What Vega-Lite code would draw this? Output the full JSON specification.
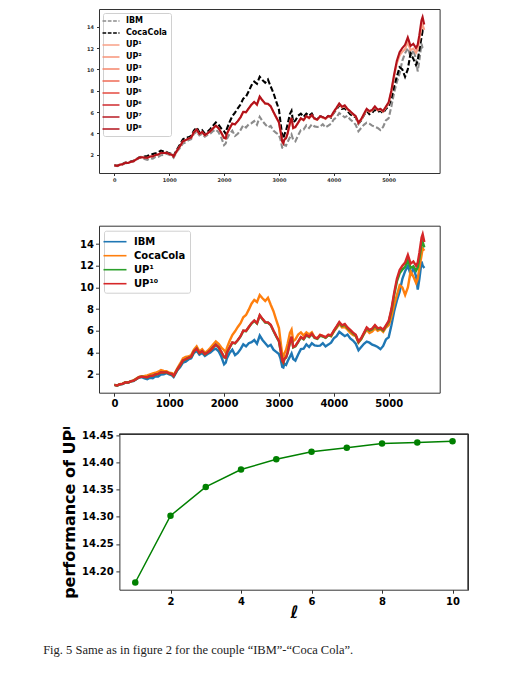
{
  "$schema": "https://vega.github.io/schema/vega-lite/v6.json",
  "padding": {"left": 43, "top": 8, "right": 5, "bottom": 5},
  "config": {
    "font": "DejaVu Sans",
    "view": {"stroke": "#333333", "strokeWidth": 1},
    "axis": {"grid": false, "domain": false, "labelFontWeight": "bold", "labelColor": "#000000", "tickColor": "#333333", "titleColor": "#000000", "labelFontSize": 10, "tickSize": 3.5, "labelPadding": 2, "labelOverlap": false},
    "legend": {"labelFontWeight": "bold", "labelColor": "#000000", "labelLimit": 300}
  },
  "datasets": {
    "series": [
      {"t": 0, "ibm": 1.00, "coca": 1.00, "up1": 1.00, "up10": 1.00},
      {"t": 50, "ibm": 0.93, "coca": 0.95, "up1": 0.94, "up10": 0.94},
      {"t": 100, "ibm": 1.05, "coca": 1.08, "up1": 1.06, "up10": 1.06},
      {"t": 150, "ibm": 1.08, "coca": 1.12, "up1": 1.10, "up10": 1.10},
      {"t": 200, "ibm": 1.22, "coca": 1.25, "up1": 1.23, "up10": 1.23},
      {"t": 250, "ibm": 1.20, "coca": 1.24, "up1": 1.22, "up10": 1.22},
      {"t": 300, "ibm": 1.32, "coca": 1.35, "up1": 1.33, "up10": 1.33},
      {"t": 350, "ibm": 1.36, "coca": 1.42, "up1": 1.39, "up10": 1.39},
      {"t": 400, "ibm": 1.52, "coca": 1.58, "up1": 1.55, "up10": 1.55},
      {"t": 450, "ibm": 1.68, "coca": 1.74, "up1": 1.71, "up10": 1.71},
      {"t": 500, "ibm": 1.72, "coca": 1.80, "up1": 1.76, "up10": 1.76},
      {"t": 550, "ibm": 1.60, "coca": 1.82, "up1": 1.72, "up10": 1.72},
      {"t": 600, "ibm": 1.52, "coca": 1.88, "up1": 1.70, "up10": 1.70},
      {"t": 650, "ibm": 1.66, "coca": 1.98, "up1": 1.82, "up10": 1.83},
      {"t": 700, "ibm": 1.62, "coca": 2.05, "up1": 1.83, "up10": 1.84},
      {"t": 750, "ibm": 1.80, "coca": 2.12, "up1": 1.96, "up10": 1.97},
      {"t": 800, "ibm": 1.78, "coca": 2.22, "up1": 2.00, "up10": 2.01},
      {"t": 850, "ibm": 1.95, "coca": 2.38, "up1": 2.16, "up10": 2.17},
      {"t": 900, "ibm": 1.98, "coca": 2.30, "up1": 2.14, "up10": 2.15},
      {"t": 950, "ibm": 2.08, "coca": 2.26, "up1": 2.17, "up10": 2.18},
      {"t": 1000, "ibm": 1.98, "coca": 2.12, "up1": 2.05, "up10": 2.06},
      {"t": 1050, "ibm": 1.88, "coca": 2.08, "up1": 1.98, "up10": 1.99},
      {"t": 1080, "ibm": 1.72, "coca": 1.92, "up1": 1.82, "up10": 1.83},
      {"t": 1100, "ibm": 1.90, "coca": 2.08, "up1": 1.99, "up10": 2.00},
      {"t": 1150, "ibm": 2.35, "coca": 2.55, "up1": 2.44, "up10": 2.45},
      {"t": 1200, "ibm": 2.65, "coca": 2.98, "up1": 2.81, "up10": 2.82},
      {"t": 1250, "ibm": 3.05, "coca": 3.45, "up1": 3.24, "up10": 3.25},
      {"t": 1300, "ibm": 3.15, "coca": 3.58, "up1": 3.36, "up10": 3.37},
      {"t": 1350, "ibm": 3.35, "coca": 3.62, "up1": 3.49, "up10": 3.50},
      {"t": 1400, "ibm": 3.45, "coca": 3.75, "up1": 3.59, "up10": 3.60},
      {"t": 1450, "ibm": 3.95, "coca": 4.25, "up1": 4.09, "up10": 4.10},
      {"t": 1500, "ibm": 4.15, "coca": 4.55, "up1": 4.34, "up10": 4.35},
      {"t": 1550, "ibm": 3.80, "coca": 4.10, "up1": 3.94, "up10": 3.95},
      {"t": 1600, "ibm": 3.95, "coca": 4.30, "up1": 4.11, "up10": 4.12},
      {"t": 1650, "ibm": 3.68, "coca": 3.98, "up1": 3.82, "up10": 3.83},
      {"t": 1700, "ibm": 3.85, "coca": 4.15, "up1": 3.99, "up10": 4.00},
      {"t": 1750, "ibm": 3.98, "coca": 4.42, "up1": 4.19, "up10": 4.20},
      {"t": 1800, "ibm": 4.22, "coca": 4.72, "up1": 4.46, "up10": 4.47},
      {"t": 1850, "ibm": 4.35, "coca": 5.02, "up1": 4.71, "up10": 4.72},
      {"t": 1900, "ibm": 4.10, "coca": 4.80, "up1": 4.47, "up10": 4.48},
      {"t": 1950, "ibm": 3.60, "coca": 4.45, "up1": 4.03, "up10": 4.05},
      {"t": 2000, "ibm": 2.90, "coca": 4.20, "up1": 3.56, "up10": 3.58},
      {"t": 2030, "ibm": 3.05, "coca": 3.95, "up1": 3.50, "up10": 3.52},
      {"t": 2050, "ibm": 3.45, "coca": 4.40, "up1": 3.93, "up10": 3.95},
      {"t": 2100, "ibm": 3.95, "coca": 5.05, "up1": 4.43, "up10": 4.45},
      {"t": 2150, "ibm": 4.25, "coca": 5.60, "up1": 4.90, "up10": 4.92},
      {"t": 2200, "ibm": 3.75, "coca": 5.95, "up1": 4.83, "up10": 4.85},
      {"t": 2250, "ibm": 3.95, "coca": 6.35, "up1": 5.12, "up10": 5.15},
      {"t": 2300, "ibm": 4.30, "coca": 6.70, "up1": 5.47, "up10": 5.50},
      {"t": 2350, "ibm": 4.75, "coca": 7.25, "up1": 5.99, "up10": 6.02},
      {"t": 2400, "ibm": 4.55, "coca": 7.45, "up1": 5.95, "up10": 5.98},
      {"t": 2450, "ibm": 4.85, "coca": 7.95, "up1": 6.32, "up10": 6.35},
      {"t": 2500, "ibm": 4.95, "coca": 8.50, "up1": 6.66, "up10": 6.70},
      {"t": 2550, "ibm": 5.15, "coca": 8.85, "up1": 6.91, "up10": 6.95},
      {"t": 2600, "ibm": 4.80, "coca": 8.65, "up1": 6.66, "up10": 6.70},
      {"t": 2650, "ibm": 5.55, "coca": 9.30, "up1": 7.41, "up10": 7.45},
      {"t": 2700, "ibm": 5.15, "coca": 9.00, "up1": 7.06, "up10": 7.10},
      {"t": 2750, "ibm": 4.85, "coca": 8.75, "up1": 6.76, "up10": 6.80},
      {"t": 2800, "ibm": 4.55, "coca": 9.05, "up1": 6.74, "up10": 6.78},
      {"t": 2850, "ibm": 4.70, "coca": 8.40, "up1": 6.51, "up10": 6.55},
      {"t": 2900, "ibm": 4.25, "coca": 7.80, "up1": 5.98, "up10": 6.02},
      {"t": 2950, "ibm": 4.05, "coca": 7.00, "up1": 5.48, "up10": 5.52},
      {"t": 3000, "ibm": 3.85, "coca": 6.25, "up1": 5.01, "up10": 5.05},
      {"t": 3030, "ibm": 3.40, "coca": 5.00, "up1": 4.17, "up10": 4.20},
      {"t": 3060, "ibm": 2.65, "coca": 3.80, "up1": 3.22, "up10": 3.25},
      {"t": 3080, "ibm": 2.60, "coca": 3.50, "up1": 3.05, "up10": 3.08},
      {"t": 3100, "ibm": 2.95, "coca": 3.90, "up1": 3.39, "up10": 3.42},
      {"t": 3130, "ibm": 2.85, "coca": 4.25, "up1": 3.52, "up10": 3.55},
      {"t": 3160, "ibm": 3.20, "coca": 4.85, "up1": 3.99, "up10": 4.02},
      {"t": 3200, "ibm": 3.60, "coca": 5.80, "up1": 4.91, "up10": 4.95},
      {"t": 3230, "ibm": 3.90, "coca": 6.10, "up1": 5.41, "up10": 5.45},
      {"t": 3260, "ibm": 3.40, "coca": 5.05, "up1": 4.46, "up10": 4.50},
      {"t": 3300, "ibm": 3.25, "coca": 5.20, "up1": 4.56, "up10": 4.60},
      {"t": 3350, "ibm": 3.80, "coca": 5.65, "up1": 4.96, "up10": 5.00},
      {"t": 3400, "ibm": 4.30, "coca": 5.85, "up1": 5.38, "up10": 5.42},
      {"t": 3450, "ibm": 4.35, "coca": 5.55, "up1": 5.21, "up10": 5.25},
      {"t": 3500, "ibm": 4.75, "coca": 5.85, "up1": 5.58, "up10": 5.62},
      {"t": 3550, "ibm": 4.50, "coca": 5.65, "up1": 5.41, "up10": 5.45},
      {"t": 3600, "ibm": 4.85, "coca": 5.85, "up1": 5.68, "up10": 5.72},
      {"t": 3650, "ibm": 4.65, "coca": 5.40, "up1": 5.34, "up10": 5.38},
      {"t": 3700, "ibm": 4.60, "coca": 5.30, "up1": 5.26, "up10": 5.30},
      {"t": 3750, "ibm": 4.62, "coca": 5.62, "up1": 5.55, "up10": 5.60},
      {"t": 3800, "ibm": 4.85, "coca": 5.50, "up1": 5.47, "up10": 5.52},
      {"t": 3850, "ibm": 4.55, "coca": 5.38, "up1": 5.35, "up10": 5.40},
      {"t": 3900, "ibm": 4.72, "coca": 5.62, "up1": 5.57, "up10": 5.62},
      {"t": 3950, "ibm": 4.90, "coca": 5.48, "up1": 5.53, "up10": 5.58},
      {"t": 4000, "ibm": 5.30, "coca": 5.92, "up1": 5.97, "up10": 6.02},
      {"t": 4050, "ibm": 5.50, "coca": 6.25, "up1": 6.35, "up10": 6.40},
      {"t": 4100, "ibm": 5.90, "coca": 6.62, "up1": 6.74, "up10": 6.80},
      {"t": 4150, "ibm": 5.70, "coca": 6.30, "up1": 6.44, "up10": 6.50},
      {"t": 4200, "ibm": 5.50, "coca": 6.35, "up1": 6.56, "up10": 6.62},
      {"t": 4250, "ibm": 5.65, "coca": 6.10, "up1": 6.24, "up10": 6.30},
      {"t": 4300, "ibm": 5.30, "coca": 5.80, "up1": 6.02, "up10": 6.08},
      {"t": 4350, "ibm": 5.10, "coca": 5.62, "up1": 5.76, "up10": 5.82},
      {"t": 4400, "ibm": 4.80, "coca": 5.50, "up1": 5.56, "up10": 5.62},
      {"t": 4450, "ibm": 4.20, "coca": 4.90, "up1": 4.94, "up10": 5.00},
      {"t": 4500, "ibm": 4.50, "coca": 5.22, "up1": 5.26, "up10": 5.32},
      {"t": 4550, "ibm": 4.80, "coca": 5.70, "up1": 5.76, "up10": 5.82},
      {"t": 4600, "ibm": 5.00, "coca": 6.10, "up1": 6.23, "up10": 6.30},
      {"t": 4650, "ibm": 4.90, "coca": 5.80, "up1": 6.01, "up10": 6.08},
      {"t": 4700, "ibm": 4.72, "coca": 5.92, "up1": 6.13, "up10": 6.20},
      {"t": 4750, "ibm": 4.62, "coca": 6.22, "up1": 6.45, "up10": 6.52},
      {"t": 4800, "ibm": 4.50, "coca": 6.00, "up1": 6.15, "up10": 6.22},
      {"t": 4850, "ibm": 4.30, "coca": 6.12, "up1": 6.23, "up10": 6.30},
      {"t": 4900, "ibm": 4.60, "coca": 5.90, "up1": 6.03, "up10": 6.10},
      {"t": 4950, "ibm": 5.20, "coca": 6.30, "up1": 6.42, "up10": 6.50},
      {"t": 5000, "ibm": 5.40, "coca": 6.50, "up1": 6.80, "up10": 6.90},
      {"t": 5050, "ibm": 6.50, "coca": 7.30, "up1": 7.85, "up10": 8.00},
      {"t": 5100, "ibm": 7.80, "coca": 8.40, "up1": 9.30, "up10": 9.50},
      {"t": 5150, "ibm": 8.80, "coca": 9.30, "up1": 10.55, "up10": 10.80},
      {"t": 5200, "ibm": 9.60, "coca": 10.20, "up1": 11.30, "up10": 11.60},
      {"t": 5250, "ibm": 10.80, "coca": 10.00, "up1": 11.65, "up10": 12.00},
      {"t": 5300, "ibm": 11.50, "coca": 9.30, "up1": 11.90, "up10": 12.30},
      {"t": 5350, "ibm": 12.00, "coca": 10.00, "up1": 12.55, "up10": 13.00},
      {"t": 5400, "ibm": 11.20, "coca": 11.50, "up1": 11.80, "up10": 12.20},
      {"t": 5450, "ibm": 11.80, "coca": 11.00, "up1": 11.95, "up10": 12.40},
      {"t": 5500, "ibm": 11.00, "coca": 10.40, "up1": 11.55, "up10": 12.00},
      {"t": 5530, "ibm": 9.80, "coca": 10.80, "up1": 11.85, "up10": 12.30},
      {"t": 5560, "ibm": 10.80, "coca": 11.80, "up1": 12.70, "up10": 13.20},
      {"t": 5600, "ibm": 12.40, "coca": 13.00, "up1": 14.00, "up10": 14.60},
      {"t": 5620, "ibm": 12.00, "coca": 13.60, "up1": 14.20, "up10": 14.90},
      {"t": 5650, "ibm": 11.80, "coca": 13.40, "up1": 13.70, "up10": 14.20}
    ],
    "perf": [
      {"l": 1, "perf": 14.179},
      {"l": 2, "perf": 14.302},
      {"l": 3, "perf": 14.355},
      {"l": 4, "perf": 14.387},
      {"l": 5, "perf": 14.406},
      {"l": 6, "perf": 14.420},
      {"l": 7, "perf": 14.427},
      {"l": 8, "perf": 14.435},
      {"l": 9, "perf": 14.437},
      {"l": 10, "perf": 14.439}
    ]
  },
  "title": {
    "text": "Fig. 5  Same as in figure 2 for the couple “IBM”-“Coca Cola”.",
    "orient": "bottom",
    "anchor": "start",
    "font": "Liberation Serif",
    "fontSize": 12.5,
    "fontWeight": "normal",
    "color": "#222222",
    "offset": 24,
    "dx": -18.3
  },
  "spacing": 16.7,
  "resolve": {"scale": {"color": "independent", "strokeDash": "independent", "x": "independent", "y": "independent"}, "legend": {"color": "independent"}},
  "vconcat": [
    {
      "width": 340.6,
      "height": 164,
      "data": {"name": "series"},
      "transform": [{"fold": ["ibm", "coca", "up1", "up10"], "as": ["series", "value"]}],
      "mark": {"type": "line", "strokeWidth": 2.1},
      "encoding": {
        "x": {
          "field": "t",
          "type": "quantitative",
          "scale": {"domain": [-280, 5930], "nice": false, "zero": false},
          "axis": {"values": [0, 1000, 2000, 3000, 4000, 5000], "format": "d", "labelFontSize": 5, "labelColor": "#333333", "tickSize": 2.5, "labelPadding": 1.5, "title": " ", "titleFontSize": 10, "titlePadding": 14.6}
        },
        "y": {
          "field": "value",
          "type": "quantitative",
          "scale": {"domain": [0.28, 15.66], "nice": false, "zero": false},
          "axis": {"values": [2, 4, 6, 8, 10, 12, 14], "labelOverlap": false, "labelFontSize": 5, "labelColor": "#333333", "tickSize": 2.5, "labelPadding": 3, "title": null}
        },
        "color": {
          "field": "series",
          "type": "nominal",
          "scale": {
            "domain": ["ibm", "coca", "up1", "up2", "up3", "up4", "up5", "up6", "up7", "up10"],
            "range": ["#8c8c8c", "#000000", "#f9a187", "#f79378", "#f4846a", "#ef6a55", "#e54a3f", "#cf2a2e", "#b81a23", "#b2121b"]
          },
          "legend": {
            "title": null,
            "orient": "top-left",
            "offset": 4,
            "padding": 3,
            "labelFontSize": 8,
            "symbolType": "M-2,0H2",
            "symbolSize": 72,
            "symbolStrokeWidth": 1.5,
            "rowPadding": 3,
            "labelOffset": 10,
            "fillColor": "#ffffff",
            "strokeColor": "#d0d0d0",
            "cornerRadius": 2,
            "labelExpr": "{'ibm': 'IBM', 'coca': 'CocaCola', 'up1': 'UP¹', 'up2': 'UP²', 'up3': 'UP³', 'up4': 'UP⁴', 'up5': 'UP⁵', 'up6': 'UP⁶', 'up7': 'UP⁷', 'up10': 'UP⁸'}[datum.value]",
            "encode": {"symbols": {"update": {"strokeDash": {"signal": "datum.value === 'ibm' || datum.value === 'coca' ? [3.7, 1.6] : []"}}}}
          }
        },
        "strokeDash": {
          "field": "series",
          "type": "nominal",
          "scale": {"domain": ["ibm", "coca", "up1", "up10"], "range": [[5.5, 2.4], [5.5, 2.4], [1, 0], [1, 0]]},
          "legend": null
        }
      }
    },
    {
      "width": 340.7,
      "height": 167,
      "data": {"name": "series"},
      "transform": [{"fold": ["ibm", "coca", "up1", "up10"], "as": ["series", "value"]}],
      "mark": {"type": "line", "strokeWidth": 2.4},
      "encoding": {
        "x": {
          "field": "t",
          "type": "quantitative",
          "scale": {"domain": [-280, 5930], "nice": false, "zero": false},
          "axis": {"values": [0, 1000, 2000, 3000, 4000, 5000], "format": "d", "title": null}
        },
        "y": {
          "field": "value",
          "type": "quantitative",
          "scale": {"domain": [0.28, 15.7], "nice": false, "zero": false},
          "axis": {"values": [2, 4, 6, 8, 10, 12, 14], "labelOverlap": false, "title": null}
        },
        "color": {
          "field": "series",
          "type": "nominal",
          "scale": {
            "domain": ["ibm", "coca", "up1", "up10"],
            "range": ["#1f77b4", "#ff7f0e", "#2ca02c", "#d62728"]
          },
          "legend": {
            "title": null,
            "orient": "top-left",
            "offset": 5,
            "padding": 4,
            "labelFontSize": 10,
            "symbolType": "M-2,0H2",
            "symbolSize": 132,
            "symbolStrokeWidth": 1.6,
            "rowPadding": 2,
            "labelOffset": 12,
            "fillColor": "#ffffff",
            "strokeColor": "#d0d0d0",
            "cornerRadius": 2,
            "labelExpr": "{'ibm': 'IBM', 'coca': 'CocaCola', 'up1': 'UP¹', 'up10': 'UP¹⁰'}[datum.value]"
          }
        }
      }
    },
    {
      "width": 369.4,
      "height": 155.3,
      "view": {"stroke": null},
      "data": {"name": "perf"},
      "encoding": {
        "x": {
          "field": "l",
          "type": "quantitative",
          "scale": {"domain": [0.55, 10.45], "nice": false, "zero": false, "range": [20.4, 369.4]},
          "axis": {"values": [2, 4, 6, 8, 10], "title": "ℓ", "titleFontSize": 17, "titleFontStyle": "italic", "titleFontWeight": "bold", "titlePadding": -2, "labelPadding": 3, "domain": true, "domainColor": "#333333"}
        },
        "y": {
          "field": "perf",
          "type": "quantitative",
          "scale": {"domain": [14.1657, 14.4518], "nice": false, "zero": false},
          "axis": {"values": [14.2, 14.25, 14.3, 14.35, 14.4, 14.45], "format": ".2f", "labelOverlap": false, "title": "performance of UPˡ", "titleFontSize": 16, "titleFontWeight": "bold", "titlePadding": 4, "labelPadding": 2.8, "offset": -20.4, "domain": true, "domainColor": "#333333"}
        }
      },
      "layer": [
        {"mark": {"type": "line", "color": "#008000", "strokeWidth": 1.5}},
        {"mark": {"type": "point", "filled": true, "color": "#008000", "size": 42, "opacity": 1}},
        {
          "mark": {"type": "rule", "color": "#333333", "strokeWidth": 1},
          "encoding": {"x": {"datum": 0.55, "type": "quantitative"}, "x2": {"datum": 10.45}, "y": {"datum": 14.4518, "type": "quantitative"}}
        },
        {
          "mark": {"type": "rule", "color": "#333333", "strokeWidth": 1},
          "encoding": {"x": {"datum": 10.45, "type": "quantitative"}, "y": {"datum": 14.1657, "type": "quantitative"}, "y2": {"datum": 14.4518}}
        }
      ]
    }
  ]
}
